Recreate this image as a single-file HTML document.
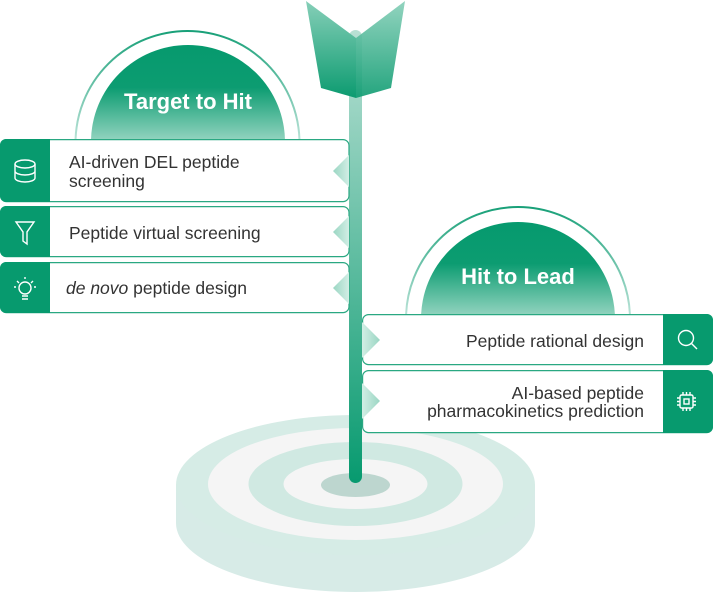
<!DOCTYPE html>
<html><head><meta charset="utf-8"><style>
html,body{margin:0;padding:0;background:#fff;}
svg{display:block;}
text{font-family:"Liberation Sans","DejaVu Sans",sans-serif;}
</style></head><body>
<svg width="713" height="593" viewBox="0 0 713 593" xmlns="http://www.w3.org/2000/svg">
<defs>
<linearGradient id="pole" x1="0" y1="0" x2="0" y2="1">
<stop offset="0" stop-color="#b9e0d4"/><stop offset="1" stop-color="#079a6f"/></linearGradient>
<linearGradient id="fl" x1="0" y1="0" x2="0" y2="1">
<stop offset="0" stop-color="#86cfb8"/><stop offset="1" stop-color="#0c9b70"/></linearGradient>
<linearGradient id="dome1" gradientUnits="userSpaceOnUse" x1="0" y1="45" x2="0" y2="139">
<stop offset="0" stop-color="#069a6e"/><stop offset="0.45" stop-color="#0c9c71"/><stop offset="1" stop-color="#8fd2bd"/></linearGradient>
<linearGradient id="dome2" gradientUnits="userSpaceOnUse" x1="0" y1="222" x2="0" y2="314">
<stop offset="0" stop-color="#069a6e"/><stop offset="0.45" stop-color="#0c9c71"/><stop offset="1" stop-color="#8fd2bd"/></linearGradient>
<linearGradient id="arc1" gradientUnits="userSpaceOnUse" x1="0" y1="31" x2="0" y2="139">
<stop offset="0" stop-color="#18a078"/><stop offset="1" stop-color="#b8e2d6"/></linearGradient>
<linearGradient id="arc2" gradientUnits="userSpaceOnUse" x1="0" y1="207" x2="0" y2="314">
<stop offset="0" stop-color="#18a078"/><stop offset="1" stop-color="#b8e2d6"/></linearGradient>
<linearGradient id="triL" x1="0" y1="0" x2="1" y2="0">
<stop offset="0" stop-color="#9ad6c3"/><stop offset="1" stop-color="#d2eee5"/></linearGradient>
<linearGradient id="triR" x1="1" y1="0" x2="0" y2="0">
<stop offset="0" stop-color="#9ad6c3"/><stop offset="1" stop-color="#d2eee5"/></linearGradient>
<clipPath id="c1"><rect x="0" y="0" width="713" height="139"/></clipPath>
<clipPath id="c2"><rect x="0" y="0" width="713" height="314"/></clipPath>
</defs>

<!-- disk -->
<path d="M176,485 L176,523 A179.5,69 0 0 0 535,523 L535,485 Z" fill="#d7ebe7"/>
<ellipse cx="355.5" cy="485" rx="179.5" ry="70" fill="#d6ece6"/>
<ellipse cx="355.5" cy="484" rx="147.5" ry="56" fill="#f5f5f5"/>
<ellipse cx="355.5" cy="484" rx="107" ry="42" fill="#d0e9e2"/>
<ellipse cx="355.5" cy="484" rx="72" ry="25" fill="#f5f5f5"/>
<ellipse cx="355.5" cy="485" rx="34.5" ry="12" fill="#bdd6cf"/>

<!-- domes -->
<g clip-path="url(#c1)">
<circle cx="187.5" cy="143" r="112" fill="none" stroke="url(#arc1)" stroke-width="2"/>
<circle cx="188" cy="142" r="97" fill="url(#dome1)"/>
</g>
<text x="188" y="109" text-anchor="middle" font-size="22" font-weight="bold" fill="#fff">Target to Hit</text>
<g clip-path="url(#c2)">
<circle cx="518" cy="319" r="112" fill="none" stroke="url(#arc2)" stroke-width="2"/>
<circle cx="518" cy="319" r="97" fill="url(#dome2)"/>
</g>
<text x="518" y="284" text-anchor="middle" font-size="22" font-weight="bold" fill="#fff">Hit to Lead</text>

<!-- pole -->
<rect x="349" y="30" width="13" height="453" rx="6.5" fill="url(#pole)"/>
<polygon points="306,1 356,38 356,98 321,88" fill="url(#fl)"/>
<polygon points="405,1 356,38 356,98 391,88" fill="url(#fl)" opacity="0.9"/>

<!-- left boxes -->
<g stroke="#2aa882" stroke-width="1.2">
<rect x="0.6" y="139.6" width="348.4" height="62" rx="6" fill="#fff"/>
<rect x="0.6" y="206.6" width="348.4" height="50" rx="6" fill="#fff"/>
<rect x="0.6" y="262.6" width="348.4" height="50" rx="6" fill="#fff"/>
</g>
<path d="M0,145 a6,6 0 0 1 6,-6 H50 V202 H6 a6,6 0 0 1 -6,-6Z" fill="#079a6e"/>
<path d="M0,212 a6,6 0 0 1 6,-6 H50 V257 H6 a6,6 0 0 1 -6,-6Z" fill="#079a6e"/>
<path d="M0,268 a6,6 0 0 1 6,-6 H50 V313 H6 a6,6 0 0 1 -6,-6Z" fill="#079a6e"/>
<polygon points="333,171 349,155 349,187" fill="url(#triL)"/>
<polygon points="333,232 349,216 349,248" fill="url(#triL)"/>
<polygon points="333,288 349,272 349,304" fill="url(#triL)"/>

<!-- right boxes -->
<g stroke="#2aa882" stroke-width="1.2">
<rect x="362.6" y="314.6" width="349.8" height="50" rx="6" fill="#fff"/>
<rect x="362.6" y="370.6" width="349.8" height="62" rx="6" fill="#fff"/>
</g>
<path d="M663,314 H707 a6,6 0 0 1 6,6 V359 a6,6 0 0 1 -6,6 H663Z" fill="#079a6e"/>
<path d="M663,370 H707 a6,6 0 0 1 6,6 V427 a6,6 0 0 1 -6,6 H663Z" fill="#079a6e"/>
<polygon points="380,340 362,322 362,358" fill="url(#triR)"/>
<polygon points="380,401 362,383 362,419" fill="url(#triR)"/>

<!-- icons -->
<g fill="none" stroke="#fff" stroke-width="1.4">
<ellipse cx="25" cy="164" rx="10" ry="4"/>
<path d="M15,164 V178 a10,4 0 0 0 20,0 V164 M15,171 a10,4 0 0 0 20,0"/>
<path d="M16,222 H34 L27,232 V244 L23,241 V232 Z"/>
<circle cx="25" cy="288" r="6"/>
<path d="M22,296 H28 M22,299 H28 M25,277 V279 M17,281 l2,2 M33,281 l-2,2 M14,287 h2 M36,287 h-2"/>
<circle cx="686" cy="338" r="7.5"/>
<path d="M691.5,343.5 L697,349"/>
<rect x="680" y="395" width="13" height="13" rx="1.5"/>
<rect x="684" y="399" width="5" height="5"/>
<path d="M683,392 v3 M686.5,392 v3 M690,392 v3 M683,408 v3 M686.5,408 v3 M690,408 v3 M677,398 h3 M677,401.5 h3 M677,405 h3 M693,398 h3 M693,401.5 h3 M693,405 h3"/>
</g>

<!-- text -->
<g font-size="17.5" fill="#333">
<text x="69" y="168">AI-driven DEL peptide</text>
<text x="69" y="187">screening</text>
<text x="69" y="239">Peptide virtual screening</text>
<text x="66" y="294"><tspan font-style="italic">de novo</tspan> peptide design</text>
<text x="644" y="347" text-anchor="end">Peptide rational design</text>
<text x="644" y="399" text-anchor="end">AI-based peptide</text>
<text x="644" y="417" text-anchor="end">pharmacokinetics prediction</text>
</g>
</svg>
</body></html>
